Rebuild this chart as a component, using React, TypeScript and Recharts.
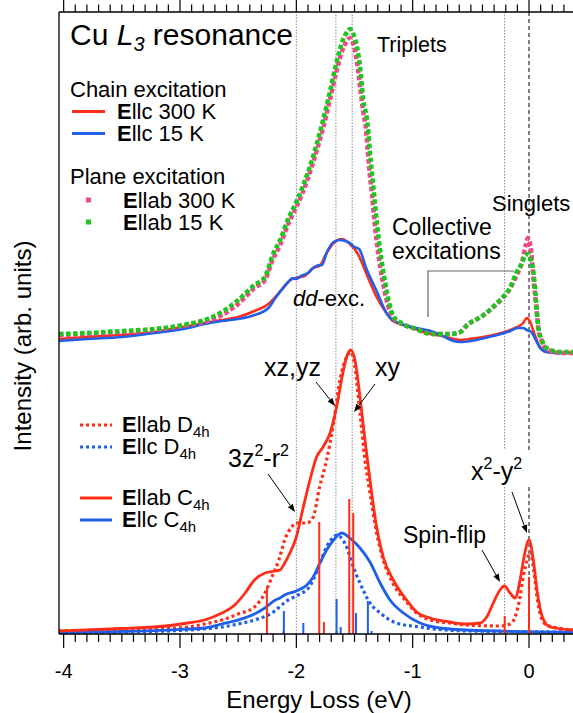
import React from 'react';
import { ComposedChart, Line, XAxis, YAxis, ReferenceLine } from 'recharts';

const FONT = '"Liberation Sans", Arial, Helvetica, sans-serif';
const RED = '#ff2d17';
const BLUE = '#1f5fea';
const PINK = '#f2478c';
const GREEN = '#1fc41f';

const X_DOMAIN: [number, number] = [-4.04, 0.378];
const Y_DOMAIN: [number, number] = [0, 622];

const xMajorTicks = [-4, -3, -2, -1, 0];
const xAllTicks = [
  -4, -3.9, -3.8, -3.7, -3.6, -3.5, -3.4, -3.3, -3.2, -3.1,
  -3, -2.9, -2.8, -2.7, -2.6, -2.5, -2.4, -2.3, -2.2, -2.1,
  -2, -1.9, -1.8, -1.7, -1.6, -1.5, -1.4, -1.3, -1.2, -1.1,
  -1, -0.9, -0.8, -0.7, -0.6, -0.5, -0.4, -0.3, -0.2, -0.1,
  0, 0.1, 0.2, 0.3,
];

// ---- experiment (upper) ----
const chain300K: [number, number][] = [
  [-4.04, 295], [-3.8, 297], [-3.5, 299], [-3.22, 302], [-2.93, 308], [-2.79, 311], [-2.64, 314],
  [-2.5, 317], [-2.36, 323], [-2.24, 330], [-2.18, 337], [-2.1, 348], [-2.05, 354], [-1.97, 357],
  [-1.93, 358], [-1.855, 366], [-1.8, 368], [-1.74, 381], [-1.68, 391], [-1.61, 395], [-1.54, 390],
  [-1.47, 380], [-1.4, 361], [-1.31, 337], [-1.22, 320], [-1.17, 313], [-1.05, 308], [-0.88, 301],
  [-0.74, 298], [-0.59, 294], [-0.45, 296], [-0.31, 299], [-0.16, 304], [-0.1, 307], [-0.05, 311],
  [-0.02, 316], [0.01, 312], [0.04, 302], [0.09, 288], [0.15, 282], [0.25, 281], [0.378, 281],
];
const chain15K: [number, number][] = [
  [-4.04, 293], [-3.8, 295], [-3.5, 297], [-3.22, 301], [-2.93, 306], [-2.79, 310], [-2.64, 313],
  [-2.5, 315], [-2.36, 319], [-2.24, 326], [-2.18, 336], [-2.12, 345], [-2.07, 352], [-2.03, 356],
  [-2.0, 355], [-1.96, 358], [-1.9, 361], [-1.855, 366], [-1.8, 369], [-1.78, 369], [-1.74, 381],
  [-1.68, 392], [-1.63, 394], [-1.58, 393], [-1.54, 391], [-1.5, 387], [-1.46, 385], [-1.4, 366],
  [-1.31, 343], [-1.22, 320], [-1.17, 314], [-1.1, 310], [-0.97, 306], [-0.82, 302], [-0.74, 298],
  [-0.65, 293], [-0.59, 292], [-0.5, 293], [-0.45, 294], [-0.31, 298], [-0.16, 303], [-0.1, 306],
  [-0.05, 306], [-0.02, 304], [0.02, 302], [0.05, 296], [0.09, 287], [0.15, 282], [0.25, 281], [0.378, 281],
];
const plane300K: [number, number][] = [
  [-4.04, 299], [-3.8, 300], [-3.5, 302], [-3.22, 304], [-2.93, 309], [-2.79, 312], [-2.64, 319],
  [-2.5, 330], [-2.36, 346], [-2.27, 354], [-2.2, 375], [-2.14, 389], [-2.07, 410], [-2.0, 427],
  [-1.95, 440], [-1.855, 472], [-1.77, 506], [-1.71, 535], [-1.654, 563], [-1.6, 585], [-1.57, 592],
  [-1.54, 596], [-1.51, 590], [-1.48, 573], [-1.45, 545], [-1.425, 522], [-1.4, 503], [-1.385, 481],
  [-1.37, 461], [-1.35, 440], [-1.33, 414], [-1.3, 384], [-1.26, 354], [-1.21, 328], [-1.17, 317],
  [-1.11, 311], [-1.05, 308], [-0.97, 305], [-0.88, 301], [-0.82, 300], [-0.68, 300], [-0.59, 302],
  [-0.54, 308], [-0.39, 319], [-0.25, 333], [-0.16, 346], [-0.11, 358], [-0.06, 372], [-0.03, 388],
  [-0.01, 396], [0.02, 381], [0.04, 352], [0.06, 330], [0.08, 305], [0.11, 293], [0.15, 285],
  [0.27, 281], [0.378, 281],
];
const plane15K: [number, number][] = [
  [-4.04, 300], [-3.8, 301], [-3.5, 303], [-3.22, 305], [-2.93, 310], [-2.79, 314], [-2.64, 322],
  [-2.5, 334], [-2.36, 349], [-2.27, 357], [-2.2, 380], [-2.14, 394], [-2.07, 415], [-2.0, 432],
  [-1.95, 446], [-1.855, 478], [-1.77, 514], [-1.71, 543], [-1.654, 572], [-1.6, 594], [-1.57, 601],
  [-1.54, 605], [-1.51, 600], [-1.48, 588], [-1.45, 565], [-1.425, 534], [-1.396, 517], [-1.38, 501],
  [-1.367, 481], [-1.35, 461], [-1.333, 441], [-1.31, 414], [-1.28, 384], [-1.24, 354], [-1.2, 330],
  [-1.167, 318], [-1.11, 312], [-1.05, 308], [-0.97, 305], [-0.88, 301], [-0.82, 300], [-0.68, 300],
  [-0.59, 302], [-0.54, 308], [-0.39, 319], [-0.25, 334], [-0.16, 347], [-0.11, 361], [-0.06, 371],
  [-0.03, 379], [0.0, 380], [0.02, 372], [0.04, 360], [0.06, 334], [0.08, 307], [0.11, 294],
  [0.15, 286], [0.27, 282], [0.378, 282],
];

// ---- calculation (lower) ----
const abC4h: [number, number][] = [
  [-4.04, 3], [-3.5, 5.5], [-3.22, 7], [-2.93, 11], [-2.79, 14], [-2.64, 21], [-2.53, 29], [-2.44, 41],
  [-2.36, 54], [-2.27, 61], [-2.18, 63], [-2.14, 64], [-2.1, 71], [-2.055, 81], [-2.0, 97], [-1.94, 127],
  [-1.883, 154], [-1.826, 177], [-1.77, 187], [-1.71, 201], [-1.654, 227], [-1.6, 261], [-1.568, 277],
  [-1.533, 284], [-1.496, 274], [-1.453, 237], [-1.41, 194], [-1.367, 154], [-1.31, 107], [-1.253, 77],
  [-1.167, 54], [-1.052, 34], [-0.966, 22], [-0.85, 16], [-0.68, 12], [-0.54, 10], [-0.42, 11],
  [-0.364, 17], [-0.307, 31], [-0.25, 44], [-0.212, 48], [-0.163, 41], [-0.12, 36], [-0.077, 54],
  [-0.043, 77], [0.0, 94], [0.037, 74], [0.072, 41], [0.115, 17], [0.18, 7], [0.378, 4],
];
const abD4h: [number, number][] = [
  [-4.04, 3], [-3.22, 5], [-2.93, 7], [-2.79, 10], [-2.64, 14], [-2.5, 20], [-2.36, 27], [-2.27, 41],
  [-2.21, 57], [-2.15, 74], [-2.1, 94], [-2.04, 107], [-2.0, 111], [-1.91, 111], [-1.855, 117],
  [-1.8, 147], [-1.74, 174], [-1.68, 211], [-1.625, 254], [-1.568, 277], [-1.533, 282], [-1.5, 270],
  [-1.453, 221], [-1.41, 174], [-1.367, 141], [-1.31, 101], [-1.253, 74], [-1.167, 50], [-1.052, 32],
  [-0.966, 21], [-0.85, 14], [-0.68, 11], [-0.54, 9], [-0.25, 8], [-0.163, 10], [-0.12, 17],
  [-0.077, 37], [-0.05, 57], [-0.02, 72], [0.01, 82], [0.04, 64], [0.07, 36], [0.1, 18], [0.15, 9], [0.378, 4],
];
const cC4h: [number, number][] = [
  [-4.04, 1.7], [-3.22, 3.3], [-2.93, 5], [-2.79, 6], [-2.64, 10], [-2.5, 14], [-2.36, 20], [-2.27, 26],
  [-2.18, 34], [-2.14, 36], [-2.1, 39], [-2.0, 43], [-1.91, 49], [-1.855, 57], [-1.797, 71], [-1.74, 84],
  [-1.68, 94], [-1.61, 101], [-1.54, 96], [-1.453, 86], [-1.367, 72], [-1.28, 51], [-1.195, 34],
  [-1.08, 21], [-0.937, 11], [-0.82, 7], [-0.54, 4], [0.378, 1.5],
];
const cD4h: [number, number][] = [
  [-4.04, 1.5], [-3.22, 2.7], [-2.64, 7], [-2.5, 10], [-2.36, 14], [-2.21, 21], [-2.07, 34], [-2.0, 38],
  [-1.955, 41], [-1.91, 44], [-1.855, 54], [-1.797, 71], [-1.74, 87], [-1.68, 97], [-1.654, 99],
  [-1.6, 94], [-1.568, 87], [-1.51, 67], [-1.453, 51], [-1.367, 31], [-1.28, 21], [-1.14, 11],
  [-0.937, 7], [-0.82, 5], [-0.5, 3], [0.378, 2],
];
const abSticks: [number, number][] = [
  [-2.253, 46], [-2.11, 3], [-1.803, 112], [-1.763, 12], [-1.654, 3], [-1.545, 135], [-1.511, 121],
  [-0.209, 18], [0, 57],
];
const cSticks: [number, number][] = [
  [-2.107, 23], [-1.94, 11], [-1.654, 35], [-1.619, 7], [-1.487, 21], [-1.385, 33], [-1.353, 3],
];

const dottedGuides = [-2.0, -1.66, -1.52];
const gappedGuides = [-0.21];
const guideGap: [number, number] = [147, 184];

const toPts = (a: [number, number][]) => a.map(([e, v]) => ({ e, v }));

const BottomTick = (props: any) => {
  const { x, y, payload } = props;
  const val = payload.value;
  const major = xMajorTicks.some((m) => Math.abs(m - val) < 1e-6);
  return (
    <g>
      <line x1={x} x2={x} y1={y} y2={y + (major ? 14 : 8)} stroke="#000" strokeWidth={1.2} />
      {major && (
        <text x={x} y={y + 44} textAnchor="middle" fontSize={20} fontFamily={FONT} fill="#000">
          {String(Math.round(val))}
        </text>
      )}
    </g>
  );
};

const TopTick = (props: any) => {
  const { x, y, payload } = props;
  const val = payload.value;
  const major = xMajorTicks.some((m) => Math.abs(m - val) < 1e-6);
  return <line x1={x} x2={x} y1={y} y2={y - (major ? 12 : 7.5)} stroke="#000" strokeWidth={1.2} />;
};

const Arrow = ({ x1, y1, x2, y2 }: { x1: number; y1: number; x2: number; y2: number }) => {
  const dx = x2 - x1;
  const dy = y2 - y1;
  const len = Math.sqrt(dx * dx + dy * dy);
  const ux = dx / len;
  const uy = dy / len;
  const L = 8;
  const W = 3;
  const bx = x2 - ux * L;
  const by = y2 - uy * L;
  const pts = `${x2},${y2} ${bx - uy * W},${by + ux * W} ${bx + uy * W},${by - ux * W}`;
  return (
    <g>
      <line x1={x1} y1={y1} x2={bx} y2={by} stroke="#000" strokeWidth={1} />
      <polygon points={pts} fill="#000" />
    </g>
  );
};

const Bold = ({ children }: { children: React.ReactNode }) => <tspan fontWeight="bold">{children}</tspan>;

export default function App() {
  const axisStyle = { stroke: '#000', strokeWidth: 1.3 };
  return (
    <div style={{ position: 'absolute', left: 0, top: 0, width: 573, height: 713, background: '#fff' }}>
      <ComposedChart width={573} height={713} margin={{ top: 0, right: 0, bottom: 0, left: 0 }}>
        <XAxis
          xAxisId="b" dataKey="e" type="number" domain={X_DOMAIN} allowDataOverflow
          ticks={xAllTicks} interval={0} orientation="bottom" height={79}
          tickSize={0} tickMargin={0} tickLine={false} tick={<BottomTick />} axisLine={axisStyle}
        />
        <XAxis
          xAxisId="t" dataKey="e" type="number" domain={X_DOMAIN} allowDataOverflow
          ticks={xAllTicks} interval={0} orientation="top" height={12}
          tickSize={0} tickMargin={0} tickLine={false} tick={<TopTick />} axisLine={axisStyle}
        />
        <YAxis
          yAxisId="y" type="number" domain={Y_DOMAIN} allowDataOverflow width={59}
          tick={false} tickLine={false} axisLine={axisStyle}
        />

        {dottedGuides.map((g) => (
          <ReferenceLine key={'g' + g} xAxisId="b" yAxisId="y" x={g} stroke="#8a8a8a" strokeWidth={1} strokeDasharray="1.5 1.5" />
        ))}
        {gappedGuides.map((g) => (
          <ReferenceLine key={'ga' + g} xAxisId="b" yAxisId="y" segment={[{ x: g, y: 622 }, { x: g, y: guideGap[1] }]} stroke="#8a8a8a" strokeWidth={1} strokeDasharray="1.5 1.5" />
        ))}
        {gappedGuides.map((g) => (
          <ReferenceLine key={'gb' + g} xAxisId="b" yAxisId="y" segment={[{ x: g, y: guideGap[0] }, { x: g, y: 0 }]} stroke="#8a8a8a" strokeWidth={1} strokeDasharray="1.5 1.5" />
        ))}
        <ReferenceLine xAxisId="b" yAxisId="y" segment={[{ x: 0, y: 622 }, { x: 0, y: guideGap[1] }]} stroke="#000" strokeWidth={1} strokeDasharray="4 3" />
        <ReferenceLine xAxisId="b" yAxisId="y" segment={[{ x: 0, y: guideGap[0] }, { x: 0, y: 0 }]} stroke="#000" strokeWidth={1} strokeDasharray="4 3" />

        <Line xAxisId="b" yAxisId="y" data={toPts(chain300K)} dataKey="v" type="monotone" stroke={RED} strokeWidth={2.6} dot={false} isAnimationActive={false} />
        <Line xAxisId="b" yAxisId="y" data={toPts(chain15K)} dataKey="v" type="monotone" stroke={BLUE} strokeWidth={2.6} dot={false} isAnimationActive={false} />
        <Line xAxisId="b" yAxisId="y" data={toPts(plane300K)} dataKey="v" type="monotone" stroke={PINK} strokeWidth={4.5} strokeDasharray="4.5 2.5" dot={false} isAnimationActive={false} />
        <Line xAxisId="b" yAxisId="y" data={toPts(plane15K)} dataKey="v" type="monotone" stroke={GREEN} strokeWidth={4.5} strokeDasharray="4.5 2.5" dot={false} isAnimationActive={false} />

        <Line xAxisId="b" yAxisId="y" data={toPts(cD4h)} dataKey="v" type="monotone" stroke={BLUE} strokeWidth={3.2} strokeDasharray="3 3" dot={false} isAnimationActive={false} />
        <Line xAxisId="b" yAxisId="y" data={toPts(abD4h)} dataKey="v" type="monotone" stroke={RED} strokeWidth={3.2} strokeDasharray="3 3" dot={false} isAnimationActive={false} />
        <Line xAxisId="b" yAxisId="y" data={toPts(cC4h)} dataKey="v" type="monotone" stroke={BLUE} strokeWidth={2.8} dot={false} isAnimationActive={false} />
        <Line xAxisId="b" yAxisId="y" data={toPts(abC4h)} dataKey="v" type="monotone" stroke={RED} strokeWidth={2.8} dot={false} isAnimationActive={false} />

        {abSticks.map(([e, h]) => (
          <ReferenceLine key={'ra' + e} xAxisId="b" yAxisId="y" segment={[{ x: e, y: 0 }, { x: e, y: h }]} stroke={RED} strokeWidth={2} />
        ))}
        {cSticks.map(([e, h]) => (
          <ReferenceLine key={'rc' + e} xAxisId="b" yAxisId="y" segment={[{ x: e, y: 0 }, { x: e, y: h }]} stroke={BLUE} strokeWidth={2} />
        ))}
      </ComposedChart>

      <svg width={573} height={713} style={{ position: 'absolute', left: 0, top: 0, pointerEvents: 'none' }} fontFamily={FONT} fill="#000">
        <text x={22} y={346} fontSize={24} textAnchor="middle" transform="rotate(-90 22 346)" dominantBaseline="central">
          Intensity (arb. units)
        </text>
        <text x={319} y={708} fontSize={24} textAnchor="middle">Energy Loss (eV)</text>

        <text x={70} y={45} fontSize={30}>
          {'Cu '}<tspan fontStyle="italic">L</tspan><tspan fontStyle="italic" fontSize={20} dy={6}>3</tspan><tspan dy={-6}>{' resonance'}</tspan>
        </text>

        <text x={70} y={97} fontSize={22}>Chain excitation</text>
        <line x1={72} x2={105} y1={111.5} y2={111.5} stroke={RED} strokeWidth={3} />
        <text x={117} y={119} fontSize={22}><Bold>E</Bold>llc 300 K</text>
        <line x1={72} x2={105} y1={133.5} y2={133.5} stroke={BLUE} strokeWidth={3} />
        <text x={117} y={141} fontSize={22}><Bold>E</Bold>llc 15 K</text>

        <text x={70} y={184} fontSize={22}>Plane excitation</text>
        <rect x={86} y={197.5} width={5} height={5} fill={PINK} />
        <text x={123} y={208} fontSize={22}><Bold>E</Bold>llab 300 K</text>
        <rect x={86} y={219.5} width={5} height={5} fill={GREEN} />
        <text x={123} y={230} fontSize={22}><Bold>E</Bold>llab 15 K</text>

        <text x={377} y={52} fontSize={21.5}>Triplets</text>
        <text x={492} y={211} fontSize={22}>Singlets</text>
        <text x={392} y={235} fontSize={23}>Collective</text>
        <text x={392} y={259} fontSize={23}>excitations</text>
        <polyline points="428,317 428,271 514,271" fill="none" stroke="#666" strokeWidth={1.2} />
        <text x={293} y={306} fontSize={22}><tspan fontStyle="italic">dd</tspan>-exc.</text>

        <line x1={80} x2={112} y1={425} y2={425} stroke={RED} strokeWidth={3.2} strokeDasharray="3 3" />
        <text x={122} y={432} fontSize={22}><Bold>E</Bold>llab D<tspan fontSize={15} dy={5}>4h</tspan></text>
        <line x1={80} x2={112} y1={447} y2={447} stroke={BLUE} strokeWidth={3.2} strokeDasharray="3 3" />
        <text x={122} y={454} fontSize={22}><Bold>E</Bold>llc D<tspan fontSize={15} dy={5}>4h</tspan></text>
        <line x1={80} x2={112} y1={498} y2={498} stroke={RED} strokeWidth={3} />
        <text x={122} y={505} fontSize={22}><Bold>E</Bold>llab C<tspan fontSize={15} dy={5}>4h</tspan></text>
        <line x1={80} x2={112} y1={520} y2={520} stroke={BLUE} strokeWidth={3} />
        <text x={122} y={527} fontSize={22}><Bold>E</Bold>llc C<tspan fontSize={15} dy={5}>4h</tspan></text>

        <text x={264} y={376} fontSize={25}>xz,yz</text>
        <Arrow x1={316} y1={382} x2={335} y2={406} />
        <text x={375} y={376} fontSize={25}>xy</text>
        <Arrow x1={375} y1={384} x2={354} y2={412} />
        <text x={228} y={467} fontSize={25}>3z<tspan fontSize={16} dy={-11}>2</tspan><tspan dy={11}>-r</tspan><tspan fontSize={16} dy={-11}>2</tspan></text>
        <Arrow x1={268} y1={474} x2={295} y2={512} />
        <text x={471} y={480} fontSize={25}>x<tspan fontSize={16} dy={-11}>2</tspan><tspan dy={11}>-y</tspan><tspan fontSize={16} dy={-11}>2</tspan></text>
        <Arrow x1={512} y1={492} x2={527} y2={533} />
        <text x={403} y={543} fontSize={23}>Spin-flip</text>
        <Arrow x1={482} y1={550} x2={500} y2={582} />
      </svg>
    </div>
  );
}
